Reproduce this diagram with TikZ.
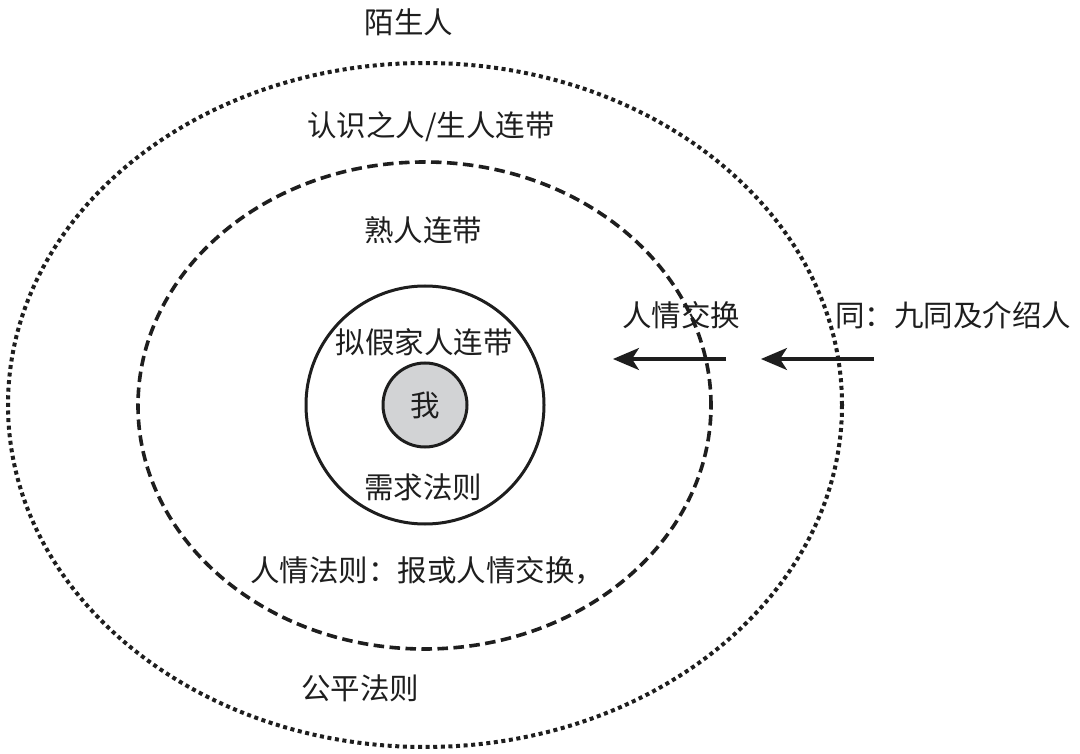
\documentclass[tikz,border=0pt]{standalone}
\usepackage{fontspec}
\setmainfont{Noto Sans CJK SC}
\usetikzlibrary{shapes.geometric,arrows.meta}
\definecolor{inkc}{RGB}{30,30,30}
\definecolor{meg}{RGB}{210,211,213}
\tikzset{
  lbl/.style={inner sep=0pt, text=inkc, font=\fontsize{29.5}{32}\selectfont},
  ring/.style={draw=inkc, inner sep=0pt, outer sep=0pt},
  dotring/.style={ring, ellipse, line width=4pt, dash pattern=on 4pt off 3.6pt},
  dashring/.style={ring, ellipse, line width=3.6pt, dash pattern=on 10.5pt off 5.5pt},
  solidring/.style={ring, circle, line width=3pt},
  arr/.style={draw=inkc, line width=3pt, -{Stealth[length=26pt,width=22pt,inset=7pt]}}
}
\begin{document}
\begin{tikzpicture}[x=1pt,y=-1pt]
\useasboundingbox (0,0) rectangle (1080,754);
\fill[white] (0,0) rectangle (1080,754);
% rings
\node[dotring, minimum width=834pt, minimum height=684pt] (outer) at (425,405) {};
\node[dashring, minimum width=573pt, minimum height=487pt] (mid) at (424.5,405.5) {};
\node[solidring, minimum size=238pt] (inner) at (425,405) {};
\node[solidring, fill=meg, minimum size=84pt] (me) at (425,405) {};
\node[lbl] (melbl) at (425,405) {我};
% labels
\node[lbl] (stranger) at (409,22) {陌生人};
\node[lbl] (acq) at (431,127) {认识之人/生人连带};
\node[lbl] (fam) at (423,230) {熟人连带};
\node[lbl] (pseudo) at (424,342) {拟假家人连带};
\node[lbl] (need) at (423,487) {需求法则};
\node[lbl, anchor=west] (renqing) at (250,571) {人情法则：报或人情交换，};
\node[lbl] (fair) at (360,688) {公平法则};
\node[lbl] (exch) at (681,315) {人情交换};
\node[lbl, anchor=west] (tong) at (835,315) {同：九同及介绍人};
% arrows
\coordinate (a1s) at (726,359);
\coordinate (a1e) at (613,359);
\coordinate (a2s) at (874,359);
\coordinate (a2e) at (761,359);
\draw[arr] (a1s) -- (a1e);
\draw[arr] (a2s) -- (a2e);
\end{tikzpicture}
\end{document}
